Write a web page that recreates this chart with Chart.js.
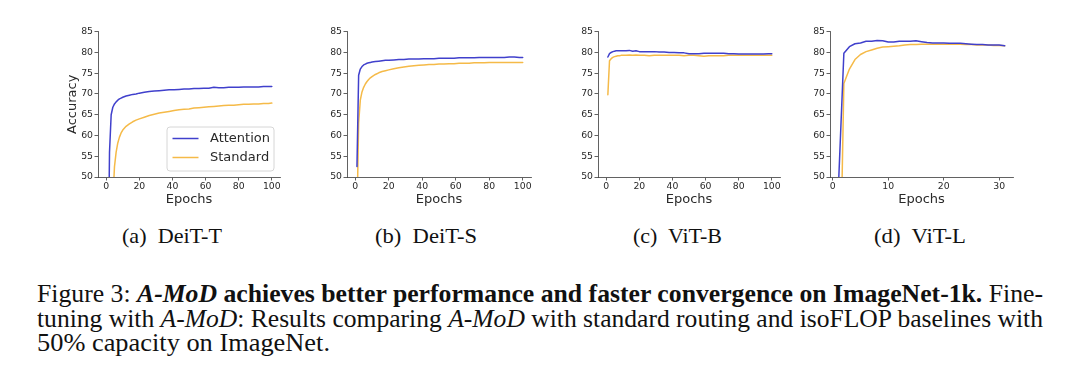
<!DOCTYPE html>
<html>
<head>
<meta charset="utf-8">
<script src="https://cdn.jsdelivr.net/npm/chart.js@4.4.1/dist/chart.umd.min.js"></script>
<style>
  html, body { margin: 0; padding: 0; background: #ffffff; }
  body { width: 1080px; height: 382px; position: relative; overflow: hidden; }
  canvas { position: absolute; }
  .sub, .cap { position: absolute; font-family: "Liberation Serif", "Nimbus Roman", "Times New Roman", Times, serif; color: #111; white-space: nowrap; transform-origin: 0 50%; }
  .sub { font-size: 21px; line-height: 24px; }
  .cap { font-size: 25.5px; line-height: 25px; left: 37px; }
</style>
</head>
<body>
<canvas id="c1" width="225" height="187" style="left:65px;top:20px"></canvas>
<canvas id="c2" width="227" height="187" style="left:314px;top:20px"></canvas>
<canvas id="c3" width="225" height="187" style="left:565px;top:20px"></canvas>
<canvas id="c4" width="226" height="187" style="left:797px;top:20px"></canvas>

<div class="sub" id="s1" style="left:122px;top:224px">(a)&nbsp; DeiT-T</div>
<div class="sub" id="s2" style="left:375px;top:224px">(b)&nbsp; DeiT-S</div>
<div class="sub" id="s3" style="left:633px;top:224px">(c)&nbsp; ViT-B</div>
<div class="sub" id="s4" style="left:874px;top:224px">(d)&nbsp; ViT-L</div>

<div class="cap" id="l1" style="top:281px">Figure 3: <b><i>A-MoD</i> achieves better performance and faster convergence on ImageNet-1k.</b> Fine-</div>
<div class="cap" id="l2" style="top:306px">tuning with <i>A-MoD</i>: Results comparing <i>A-MoD</i> with standard routing and isoFLOP baselines with</div>
<div class="cap" id="l3" style="top:330px">50% capacity on ImageNet.</div>

<script>
// ---------------- DATA ----------------
const seriesLabels = ["Attention", "Standard"];
const panelTitles = ["(a) DeiT-T", "(b) DeiT-S", "(c) ViT-B", "(d) ViT-L"];

const epochs100 = [1,2,3,4,5,6,7,8,9,10,12,14,16,18,20,23,26,29,32,35,38,41,44,47,50,53,56,59,62,65,68,71,74,77,80,83,86,89,92,95,98,100];
const epochs31 = [1,2,3,4,5,6,7,8,9,10,11,12,13,14,15,16,17,18,19,20,21,22,23,24,25,26,27,28,29,30,31];

// (a) DeiT-T
const deitT_attention = [20,56,65.0,66.8,67.6,68.1,68.5,68.8,69.0,69.2,69.5,69.7,69.9,70.0,70.2,70.4,70.6,70.7,70.8,70.9,71.0,71.0,71.1,71.2,71.2,71.3,71.3,71.4,71.4,71.6,71.5,71.5,71.6,71.6,71.6,71.7,71.7,71.7,71.7,71.8,71.8,71.8];
const deitT_standard  = [10,20,32,44,52.5,56.0,58.2,59.6,60.6,61.3,62.2,62.8,63.3,63.7,64.0,64.4,64.8,65.1,65.4,65.6,65.8,66.0,66.2,66.3,66.4,66.6,66.7,66.8,66.9,67.0,67.1,67.2,67.3,67.3,67.4,67.5,67.5,67.6,67.6,67.7,67.7,67.8];

// (b) DeiT-S
const deitS_attention = [52.5,74.5,76.0,76.6,77.0,77.2,77.4,77.5,77.6,77.7,77.8,77.9,78.0,78.1,78.1,78.2,78.3,78.3,78.4,78.4,78.4,78.5,78.5,78.5,78.6,78.6,78.6,78.6,78.7,78.7,78.7,78.7,78.8,78.8,78.8,78.8,78.8,78.8,78.9,78.9,78.8,78.8];
const deitS_standard  = [40,63,68.5,70.5,71.6,72.4,73.0,73.5,73.9,74.2,74.7,75.1,75.4,75.6,75.8,76.1,76.3,76.5,76.7,76.8,76.9,77.0,77.1,77.1,77.2,77.2,77.3,77.3,77.4,77.4,77.4,77.5,77.5,77.5,77.6,77.6,77.6,77.6,77.6,77.6,77.6,77.6];

// (c) ViT-B
const vitB_attention = [78.9,79.7,80.0,80.2,80.3,80.4,80.4,80.4,80.4,80.4,80.4,80.5,80.3,80.4,80.2,80.2,80.2,80.2,80.1,80.1,80.0,80.0,79.9,79.9,79.7,79.7,79.7,79.8,79.8,79.8,79.8,79.8,79.7,79.7,79.6,79.6,79.6,79.6,79.6,79.6,79.7,79.7];
const vitB_standard  = [69.8,78.0,78.5,78.8,79.0,79.1,79.2,79.2,79.3,79.3,79.3,79.4,79.3,79.4,79.3,79.3,79.2,79.3,79.3,79.3,79.3,79.3,79.3,79.2,79.3,79.3,79.2,79.1,79.2,79.2,79.2,79.2,79.3,79.3,79.3,79.3,79.3,79.3,79.3,79.3,79.3,79.3];

// (d) ViT-L
const vitL_attention = [47,79.8,81.4,82.1,82.3,82.7,82.7,82.9,82.8,82.5,82.5,82.7,82.7,82.7,82.8,82.6,82.4,82.3,82.3,82.3,82.2,82.2,82.2,82.1,82.0,81.9,81.9,81.8,81.8,81.8,81.6];
const vitL_standard  = [0,72.5,76.0,78.3,79.5,80.2,80.6,81.0,81.3,81.4,81.5,81.6,81.8,81.9,81.9,82.0,82.0,82.0,82.0,82.0,82.0,82.0,82.0,81.9,81.9,81.8,81.8,81.8,81.7,81.7,81.6];

const yTicks = [50,55,60,65,70,75,80,85];
const xTicks100 = [0,20,40,60,80,100];
const xTicks31 = [0,10,20,30];

// ---------------- STYLE ----------------
const BLUE = "#4040cc";
const ORANGE = "#f5ba48";
const AXIS = "#3a3a3a";
const TXT = "#2a2a2a";
const SANS = "'DejaVu Sans', sans-serif";

function pts(xs, ys) { return xs.map((x, i) => ({ x: x, y: ys[i] })); }

const legendPlugin = {
  id: "boxLegend",
  afterDraw(chart, args, opts) {
    if (!opts.show) return;
    const ctx = chart.ctx, a = chart.chartArea;
    const w = 107, h = 44;
    const x = a.right - 6 - w, y = a.bottom - 6 - h;
    ctx.save();
    ctx.fillStyle = "rgba(255,255,255,0.85)";
    ctx.strokeStyle = "#d6d6d6";
    ctx.lineWidth = 1;
    const r = 3;
    ctx.beginPath();
    ctx.moveTo(x + r, y); ctx.lineTo(x + w - r, y); ctx.arcTo(x + w, y, x + w, y + r, r);
    ctx.lineTo(x + w, y + h - r); ctx.arcTo(x + w, y + h, x + w - r, y + h, r);
    ctx.lineTo(x + r, y + h); ctx.arcTo(x, y + h, x, y + h - r, r);
    ctx.lineTo(x, y + r); ctx.arcTo(x, y, x + r, y, r);
    ctx.closePath(); ctx.fill(); ctx.stroke();
    chart.data.datasets.forEach((ds, i) => {
      const ry = y + 11.5 + i * 19;
      ctx.strokeStyle = ds.borderColor; ctx.lineWidth = 1.5;
      ctx.beginPath(); ctx.moveTo(x + 5.5, ry); ctx.lineTo(x + 31.5, ry); ctx.stroke();
      ctx.fillStyle = TXT; ctx.font = "13px " + SANS;
      ctx.textBaseline = "middle"; ctx.textAlign = "left";
      ctx.fillText(ds.label, x + 43, ry + 0.5);
    });
    ctx.restore();
  }
};

function makeChart(id, xs, att, std, xmin, xmax, xticks, showYTitle, showLegend) {
  const yW = 33, xH = 30;
  return new Chart(document.getElementById(id), {
    type: "line",
    data: {
      datasets: [
        { label: seriesLabels[0], data: pts(xs, att), borderColor: BLUE, borderWidth: 1.5 },
        { label: seriesLabels[1], data: pts(xs, std), borderColor: ORANGE, borderWidth: 1.5 }
      ]
    },
    options: {
      responsive: false, animation: false, devicePixelRatio: 1,
      layout: { padding: { left: 0, top: 11.7, right: 10, bottom: 0 } },
      elements: { point: { radius: 0 }, line: { tension: 0, borderJoinStyle: "round", borderCapStyle: "round" } },
      plugins: { legend: { display: false }, tooltip: { enabled: false }, boxLegend: { show: showLegend } },
      scales: {
        x: {
          type: "linear", min: xmin, max: xmax,
          afterFit: s => { s.height = xH; },
          afterBuildTicks: s => { s.ticks = xticks.map(v => ({ value: v })); },
          ticks: { font: { family: SANS, size: 9.3 }, color: TXT, padding: 1, maxRotation: 0, autoSkip: false },
          grid: { display: true, drawOnChartArea: false, drawTicks: true, tickLength: 3.5, color: AXIS, lineWidth: 0.8 },
          border: { display: true, color: AXIS, width: 0.8 },
          title: { display: true, text: "Epochs", font: { family: SANS, size: 13 }, color: TXT, padding: 0 }
        },
        y: {
          type: "linear", min: 50, max: 85,
          afterFit: s => { s.width = yW; },
          afterBuildTicks: s => { s.ticks = yTicks.map(v => ({ value: v })); },
          ticks: { font: { family: SANS, size: 9.3 }, color: TXT, padding: 1.5, autoSkip: false },
          grid: { display: true, drawOnChartArea: false, drawTicks: true, tickLength: 3.5, color: AXIS, lineWidth: 0.8 },
          border: { display: true, color: AXIS, width: 0.8 },
          title: { display: showYTitle, text: "Accuracy", font: { family: SANS, size: 13 }, color: TXT, padding: 0 }
        }
      }
    },
    plugins: [legendPlugin]
  });
}

makeChart("c1", epochs100, deitT_attention, deitT_standard, -4.95, 104.95, xTicks100, true, true);
makeChart("c2", epochs100, deitS_attention, deitS_standard, -4.95, 104.95, xTicks100, false, false);
makeChart("c3", epochs100, vitB_attention, vitB_standard, -4.95, 104.95, xTicks100, false, false);
makeChart("c4", epochs31, vitL_attention, vitL_standard, -0.5, 32.5, xTicks31, false, false);

// ---------------- TEXT FITTING ----------------
function fitWidth(el, target) {
  const w = el.getBoundingClientRect().width;
  el.style.transform = "scaleX(" + (target / w) + ")";
}
fitWidth(document.getElementById("s1"), 100);
fitWidth(document.getElementById("s2"), 102);
fitWidth(document.getElementById("s3"), 89);
fitWidth(document.getElementById("s4"), 92);

const l3 = document.getElementById("l3");
const s = 293 / l3.getBoundingClientRect().width;
l3.style.transform = "scaleX(" + s + ")";
["l1", "l2"].forEach(id => {
  const el = document.getElementById(id);
  const w = el.getBoundingClientRect().width;
  if (w * s <= 1006) {
    el.style.whiteSpace = "normal";
    el.style.width = (1006 / s) + "px";
    el.style.textAlign = "justify";
    el.style.textAlignLast = "justify";
    el.style.transform = "scaleX(" + s + ")";
  } else {
    el.style.transform = "scaleX(" + (1006 / w) + ")";
  }
});
</script>
</body>
</html>
